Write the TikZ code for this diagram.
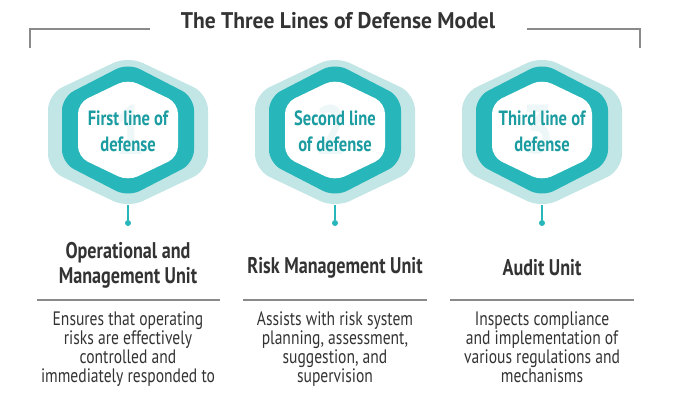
\documentclass[tikz,border=0pt]{standalone}
\usepackage{fontspec}
\setmainfont{PT Sans}[FakeStretch=0.8]
\newfontfamily\titlefont{PT Sans}[FakeStretch=0.95]
\usepackage{tikz}

\definecolor{palecyan}{HTML}{C2E5E5}
\definecolor{ringcyan}{HTML}{27B6BA}
\definecolor{labelcyan}{HTML}{1B9CA1}
\definecolor{ghostcyan}{HTML}{EEF7F7}
\definecolor{darktext}{HTML}{333333}
\definecolor{rulegray}{HTML}{8A8A8A}

% hexagon: centre x, centre y, half width, half height, half side
\newcommand{\hexpath}[5]{(#1,#2-#4) -- (#1+#3,#2-#5) -- (#1+#3,#2+#5) -- (#1,#2+#4) -- (#1-#3,#2+#5) -- (#1-#3,#2-#5) -- cycle}

\tikzset{
  hexlabel/.style={text=labelcyan, font=\bfseries\fontsize{15.5}{19.5}\selectfont, align=center, inner sep=0.75pt},
  ghost/.style={text=ghostcyan, font=\bfseries\fontsize{52}{52}\selectfont, inner sep=0pt},
  unitname/.style={text=darktext, font=\bfseries\fontsize{17}{19}\selectfont, align=center, inner sep=0.75pt},
  unitdesc/.style={text=darktext, font=\fontsize{14.6}{14.3}\selectfont, align=center, inner sep=0.75pt, anchor=north},
  stemdot/.style={circle, fill=ringcyan, inner sep=0pt, minimum size=4.5pt},
  stem/.style={draw=ringcyan, line width=1.2pt},
  divider/.style={draw=rulegray, line width=0.8pt}
}

\begin{document}
\begin{tikzpicture}[x=0.75pt,y=0.75pt,yscale=-1,xscale=1]
            \useasboundingbox (0,0) rectangle (681,394);

            % Title and frame
            \node (title) at (338,21) {\titlefont\bfseries\fontsize{17}{20}\selectfont\color{darktext}The Three Lines of Defense Model};
            \draw [rulegray, line width=0.8pt] (30,48) -- (30,29) -- (150,29);
            \draw [rulegray, line width=0.8pt] (527,29) -- (640,29) -- (640,48);

            % First line of defense
            \fill [palecyan, rounded corners=12pt] \hexpath{128}{132}{80}{76}{38};
            \fill [ringcyan, rounded corners=10pt] \hexpath{128}{130}{66}{67}{33};
            \fill [white, rounded corners=8pt] \hexpath{128}{130}{50}{51}{27};
            \node [ghost] (g1) at (130,130) {1};
            \node [hexlabel] (h1) at (128,131) {First line of\\defense};
            \coordinate (b1) at (128,205);
            \node [stemdot] (d1) at (128,223) {};
            \draw [stem] (b1) -- (d1);

            % Second line of defense
            \fill [palecyan, rounded corners=12pt] \hexpath{335}{132}{80}{76}{38};
            \fill [ringcyan, rounded corners=10pt] \hexpath{335}{130}{66}{67}{33};
            \fill [white, rounded corners=8pt] \hexpath{335}{130}{50}{51}{27};
            \node [ghost] (g2) at (331,130) {2};
            \node [hexlabel] (h2) at (335,131) {Second line\\of defense};
            \coordinate (b2) at (335,205);
            \node [stemdot] (d2) at (335,223) {};
            \draw [stem] (b2) -- (d2);

            % Third line of defense
            \fill [palecyan, rounded corners=12pt] \hexpath{542}{132}{80}{76}{38};
            \fill [ringcyan, rounded corners=10pt] \hexpath{542}{130}{66}{67}{33};
            \fill [white, rounded corners=8pt] \hexpath{542}{130}{50}{51}{27};
            \node [ghost] (g3) at (538,130) {3};
            \node [hexlabel] (h3) at (542,131) {Third line of\\defense};
            \coordinate (b3) at (542,205);
            \node [stemdot] (d3) at (542,223) {};
            \draw [stem] (b3) -- (d3);

            % Unit names
            \node [unitname] (u1) at (128,265) {Operational and\\Management Unit};
            \node [unitname] (u2) at (335,268) {Risk Management Unit};
            \node [unitname] (u3) at (542,268) {Audit Unit};

            % Dividers
            \draw [divider] (37,300) -- (220,300);
            \draw [divider] (243,300) -- (427,300);
            \draw [divider] (450,300) -- (634,300);

            % Descriptions
            \node [unitdesc] (t1) at (128,310) {Ensures that operating\\risks are effectively\\controlled and\\immediately responded to};
            \node [unitdesc] (t2) at (335,310) {Assists with risk system\\planning, assessment,\\suggestion, and\\supervision};
            \node [unitdesc] (t3) at (542,310) {Inspects compliance\\and implementation of\\various regulations and\\mechanisms};

            \end{tikzpicture}
\end{document}
